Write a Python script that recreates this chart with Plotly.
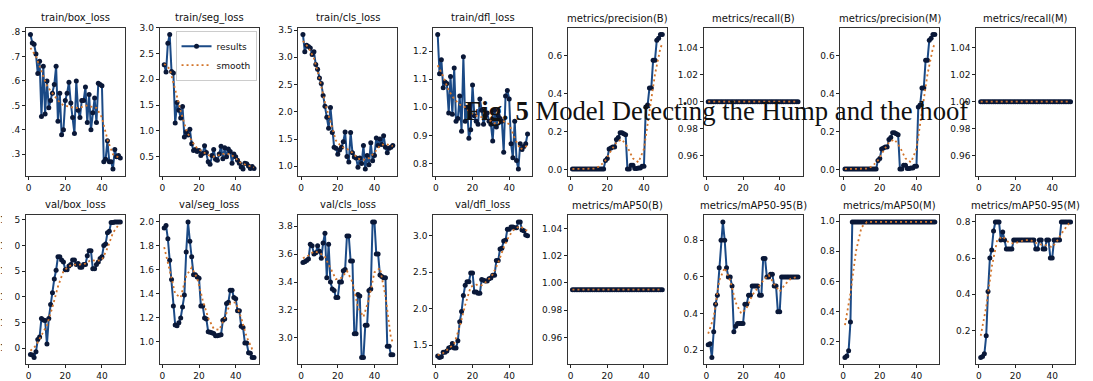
import plotly.graph_objects as go

# ---------------- data ----------------
epochs = list(range(1, 51))
smooth_epochs = [1, 4, 7, 10, 13, 16, 19, 22, 25, 28, 31, 34, 37, 40, 43, 46, 49, 50]

train_box_loss = [0.79, 0.755, 0.75, 0.71, 0.63, 0.68, 0.455, 0.66, 0.465, 0.60,
                  0.49, 0.52, 0.55, 0.585, 0.66, 0.435, 0.55, 0.38, 0.40, 0.52,
                  0.55, 0.595, 0.51, 0.45, 0.385, 0.60, 0.48, 0.45, 0.52, 0.52,
                  0.575, 0.43, 0.545, 0.40, 0.47, 0.53, 0.43, 0.59, 0.585, 0.58,
                  0.27, 0.28, 0.355, 0.27, 0.27, 0.24, 0.32, 0.29, 0.295, 0.285]
train_box_loss_smooth = [0.735, 0.70, 0.64, 0.58, 0.55, 0.52, 0.50, 0.495, 0.49, 0.49,
                         0.50, 0.495, 0.49, 0.45, 0.36, 0.30, 0.285, 0.283]

train_seg_loss = [2.28, 2.14, 2.70, 2.87, 2.15, 2.12, 1.15, 1.55, 1.40, 1.25,
                  1.47, 0.88, 0.98, 0.92, 1.03, 0.75, 0.62, 0.64, 0.60, 0.62,
                  0.52, 0.56, 0.71, 0.58, 0.40, 0.35, 0.52, 0.64, 0.45, 0.43,
                  0.55, 0.70, 0.46, 0.67, 0.50, 0.65, 0.60, 0.37, 0.55, 0.50,
                  0.43, 0.37, 0.30, 0.26, 0.37, 0.36, 0.32, 0.27, 0.31, 0.27]
train_seg_loss_smooth = [2.30, 2.20, 1.80, 1.38, 1.02, 0.80, 0.66, 0.60, 0.53, 0.50,
                         0.53, 0.56, 0.55, 0.47, 0.37, 0.33, 0.29, 0.29]

train_cls_loss = [3.42, 3.10, 3.22, 3.20, 3.17, 3.05, 3.10, 2.87, 2.78, 2.62,
                  2.52, 2.30, 2.10, 1.90, 1.70, 2.08, 1.62, 1.35, 1.33, 1.22,
                  1.30, 1.35, 1.45, 1.63, 1.18, 1.08, 1.62, 1.25, 1.17, 1.15,
                  0.98, 1.15, 1.05, 1.38, 0.95, 1.20, 1.03, 1.43, 1.10, 1.20,
                  1.52, 1.38, 1.50, 1.40, 1.56, 1.35, 1.25, 1.33, 1.35, 1.38]
train_cls_loss_smooth = [3.30, 3.18, 2.98, 2.62, 2.17, 1.80, 1.47, 1.36, 1.32, 1.25,
                         1.14, 1.12, 1.15, 1.25, 1.38, 1.41, 1.37, 1.37]

train_dfl_loss = [1.26, 1.12, 1.17, 1.07, 1.09, 1.085, 0.98, 1.11, 0.975, 1.14,
                  0.95, 0.96, 1.04, 0.915, 1.18, 0.95, 1.00, 0.89, 0.92, 1.08,
                  0.97, 0.95, 0.94, 1.03, 0.99, 0.94, 0.97, 0.98, 0.95, 0.94,
                  0.88, 0.99, 0.93, 0.97, 0.96, 0.95, 0.84, 1.04, 1.06, 1.03,
                  0.87, 0.82, 0.95, 0.81, 0.78, 0.87, 0.85, 0.86, 0.87, 0.905]
train_dfl_loss_smooth = [1.15, 1.11, 1.06, 1.03, 1.01, 1.00, 0.98, 0.97, 0.965, 0.96,
                         0.945, 0.94, 0.95, 0.94, 0.89, 0.85, 0.86, 0.865]

precision_B = [0.005, 0.005, 0.005, 0.005, 0.005, 0.005, 0.005, 0.005, 0.005, 0.005,
               0.005, 0.005, 0.005, 0.005, 0.005, 0.005, 0.005, 0.005, 0.05, 0.06,
               0.11, 0.115, 0.12, 0.12, 0.16, 0.17, 0.195, 0.195, 0.19, 0.185,
               0.005, 0.005, 0.025, 0.025, 0.008, 0.008, 0.01, 0.01, 0.02, 0.02,
               0.33, 0.34, 0.43, 0.43, 0.575, 0.575, 0.68, 0.69, 0.71, 0.71]
precision_B_smooth = [0.005, 0.005, 0.005, 0.005, 0.007, 0.02, 0.05, 0.10, 0.145, 0.16,
                      0.12, 0.06, 0.04, 0.11, 0.30, 0.50, 0.64, 0.66]

recall_B = [1.0, 1.0, 1.0, 1.0, 1.0, 1.0, 1.0, 1.0, 1.0, 1.0,
            1.0, 1.0, 1.0, 1.0, 1.0, 1.0, 1.0, 1.0, 1.0, 1.0,
            1.0, 1.0, 1.0, 1.0, 1.0, 1.0, 1.0, 1.0, 1.0, 1.0,
            1.0, 1.0, 1.0, 1.0, 1.0, 1.0, 1.0, 1.0, 1.0, 1.0,
            1.0, 1.0, 1.0, 1.0, 1.0, 1.0, 1.0, 1.0, 1.0, 1.0]
recall_B_smooth = [1.0, 1.0, 1.0, 1.0, 1.0, 1.0, 1.0, 1.0, 1.0, 1.0,
                   1.0, 1.0, 1.0, 1.0, 1.0, 1.0, 1.0, 1.0]

precision_M = [0.005, 0.005, 0.005, 0.005, 0.005, 0.005, 0.005, 0.005, 0.005, 0.005,
               0.005, 0.005, 0.005, 0.005, 0.005, 0.005, 0.005, 0.005, 0.05, 0.06,
               0.11, 0.115, 0.12, 0.12, 0.16, 0.17, 0.195, 0.195, 0.19, 0.185,
               0.005, 0.005, 0.025, 0.025, 0.008, 0.008, 0.01, 0.01, 0.02, 0.02,
               0.33, 0.34, 0.43, 0.43, 0.575, 0.575, 0.68, 0.69, 0.71, 0.71]
precision_M_smooth = [0.005, 0.005, 0.005, 0.005, 0.007, 0.02, 0.05, 0.10, 0.145, 0.16,
                      0.12, 0.06, 0.04, 0.11, 0.30, 0.50, 0.64, 0.66]

recall_M = [1.0, 1.0, 1.0, 1.0, 1.0, 1.0, 1.0, 1.0, 1.0, 1.0,
            1.0, 1.0, 1.0, 1.0, 1.0, 1.0, 1.0, 1.0, 1.0, 1.0,
            1.0, 1.0, 1.0, 1.0, 1.0, 1.0, 1.0, 1.0, 1.0, 1.0,
            1.0, 1.0, 1.0, 1.0, 1.0, 1.0, 1.0, 1.0, 1.0, 1.0,
            1.0, 1.0, 1.0, 1.0, 1.0, 1.0, 1.0, 1.0, 1.0, 1.0]
recall_M_smooth = [1.0, 1.0, 1.0, 1.0, 1.0, 1.0, 1.0, 1.0, 1.0, 1.0,
                   1.0, 1.0, 1.0, 1.0, 1.0, 1.0, 1.0, 1.0]

val_box_loss = [0.9875, 0.987, 0.982, 0.993, 1.017, 1.022, 1.058, 1.055, 1.054, 1.008,
                1.058, 1.085, 1.108, 1.135, 1.152, 1.178, 1.178, 1.172, 1.168, 1.153,
                1.153, 1.160, 1.163, 1.172, 1.172, 1.163, 1.165, 1.158, 1.158, 1.163,
                1.163, 1.180, 1.190, 1.190, 1.155, 1.155, 1.163, 1.168, 1.175, 1.178,
                1.200, 1.203, 1.225, 1.228, 1.245, 1.245, 1.246, 1.246, 1.246, 1.246]
val_box_loss_smooth = [0.995, 1.005, 1.025, 1.045, 1.08, 1.12, 1.15, 1.16, 1.163, 1.163,
                       1.165, 1.172, 1.17, 1.172, 1.195, 1.225, 1.24, 1.242]

val_seg_loss = [1.95, 1.97, 1.86, 1.68, 1.52, 1.30, 1.14, 1.135, 1.16, 1.20,
                1.29, 1.39, 1.75, 2.00, 1.84, 1.71, 1.56, 1.56, 1.54, 1.53,
                1.30, 1.30, 1.20, 1.19, 1.085, 1.08, 1.075, 1.07, 1.05, 1.05,
                1.055, 1.06, 1.18, 1.19, 1.32, 1.33, 1.43, 1.43, 1.37, 1.36,
                1.26, 1.26, 1.13, 1.12, 0.99, 0.99, 0.91, 0.905, 0.87, 0.87]
val_seg_loss_smooth = [1.79, 1.60, 1.40, 1.37, 1.55, 1.62, 1.53, 1.35, 1.20, 1.11,
                       1.10, 1.20, 1.32, 1.33, 1.20, 1.04, 0.94, 0.93]

val_cls_loss = [3.54, 3.545, 3.555, 3.565, 3.67, 3.66, 3.60, 3.61, 3.66, 3.62,
                3.57, 3.68, 3.75, 3.43, 3.67, 3.40, 3.35, 3.34, 3.29, 3.29,
                3.40, 3.40, 3.48, 3.49, 3.73, 3.73, 3.55, 3.55, 3.03, 3.03,
                3.31, 3.30, 2.86, 2.86, 3.09, 3.09, 3.34, 3.35, 3.83, 3.83,
                3.60, 3.60, 3.45, 3.44, 3.43, 3.43, 2.94, 2.94, 2.88, 2.88]
val_cls_loss_smooth = [3.57, 3.59, 3.62, 3.61, 3.58, 3.50, 3.42, 3.43, 3.48, 3.40,
                       3.22, 3.15, 3.28, 3.47, 3.50, 3.30, 3.00, 2.97]

val_dfl_loss = [1.35, 1.33, 1.34, 1.40, 1.40, 1.42, 1.46, 1.47, 1.52, 1.46,
                1.46, 1.56, 1.82, 1.96, 2.18, 2.32, 2.37, 2.37, 2.49, 2.49,
                2.23, 2.23, 2.21, 2.21, 2.40, 2.39, 2.38, 2.38, 2.41, 2.42,
                2.46, 2.46, 2.66, 2.66, 2.82, 2.83, 2.93, 2.94, 3.09, 3.09,
                3.12, 3.12, 3.11, 3.11, 3.19, 3.19, 3.08, 3.07, 3.01, 3.00]
val_dfl_loss_smooth = [1.36, 1.39, 1.45, 1.52, 1.75, 2.05, 2.30, 2.33, 2.32, 2.38,
                       2.47, 2.63, 2.84, 3.00, 3.10, 3.13, 3.08, 3.07]

mAP50_B = [0.995, 0.995, 0.995, 0.995, 0.995, 0.995, 0.995, 0.995, 0.995, 0.995,
           0.995, 0.995, 0.995, 0.995, 0.995, 0.995, 0.995, 0.995, 0.995, 0.995,
           0.995, 0.995, 0.995, 0.995, 0.995, 0.995, 0.995, 0.995, 0.995, 0.995,
           0.995, 0.995, 0.995, 0.995, 0.995, 0.995, 0.995, 0.995, 0.995, 0.995,
           0.995, 0.995, 0.995, 0.995, 0.995, 0.995, 0.995, 0.995, 0.995, 0.995]
mAP50_B_smooth = [0.995, 0.995, 0.995, 0.995, 0.995, 0.995, 0.995, 0.995, 0.995, 0.995,
                  0.995, 0.995, 0.995, 0.995, 0.995, 0.995, 0.995, 0.995]

mAP50_95_B = [0.23, 0.235, 0.16, 0.30, 0.45, 0.50, 0.65, 0.80, 0.90, 0.80,
              0.65, 0.60, 0.60, 0.55, 0.30, 0.33, 0.345, 0.345, 0.345, 0.345,
              0.45, 0.45, 0.50, 0.50, 0.55, 0.55, 0.55, 0.55, 0.50, 0.50,
              0.70, 0.70, 0.60, 0.60, 0.615, 0.615, 0.55, 0.55, 0.41, 0.41,
              0.60, 0.60, 0.60, 0.60, 0.60, 0.60, 0.60, 0.60, 0.60, 0.60]
mAP50_95_B_smooth = [0.29, 0.38, 0.58, 0.65, 0.58, 0.46, 0.40, 0.43, 0.50, 0.54,
                     0.58, 0.61, 0.56, 0.52, 0.56, 0.59, 0.60, 0.60]

mAP50_M = [0.095, 0.105, 0.14, 0.33, 0.995, 0.995, 0.995, 0.995, 0.995, 0.995,
           0.995, 0.995, 0.995, 0.995, 0.995, 0.995, 0.995, 0.995, 0.995, 0.995,
           0.995, 0.995, 0.995, 0.995, 0.995, 0.995, 0.995, 0.995, 0.995, 0.995,
           0.995, 0.995, 0.995, 0.995, 0.995, 0.995, 0.995, 0.995, 0.995, 0.995,
           0.995, 0.995, 0.995, 0.995, 0.995, 0.995, 0.995, 0.995, 0.995, 0.995]
mAP50_M_smooth = [0.31, 0.52, 0.80, 0.96, 0.995, 0.995, 0.995, 0.995, 0.995, 0.995,
                  0.995, 0.995, 0.995, 0.995, 0.995, 0.995, 0.995, 0.995]

mAP50_95_M = [0.05, 0.055, 0.07, 0.17, 0.415, 0.60, 0.645, 0.75, 0.80, 0.80,
              0.80, 0.70, 0.745, 0.70, 0.65, 0.65, 0.65, 0.65, 0.70, 0.70,
              0.70, 0.70, 0.70, 0.70, 0.70, 0.70, 0.70, 0.70, 0.70, 0.70,
              0.65, 0.65, 0.70, 0.70, 0.65, 0.65, 0.70, 0.70, 0.60, 0.60,
              0.70, 0.70, 0.70, 0.70, 0.80, 0.80, 0.80, 0.80, 0.80, 0.80]
mAP50_95_M_smooth = [0.17, 0.33, 0.55, 0.70, 0.72, 0.69, 0.68, 0.69, 0.70, 0.70,
                     0.685, 0.675, 0.67, 0.66, 0.70, 0.75, 0.79, 0.795]

panel_titles = ["train/box_loss", "train/seg_loss", "train/cls_loss", "train/dfl_loss",
                "metrics/precision(B)", "metrics/recall(B)", "metrics/precision(M)", "metrics/recall(M)",
                "val/box_loss", "val/seg_loss", "val/cls_loss", "val/dfl_loss",
                "metrics/mAP50(B)", "metrics/mAP50-95(B)", "metrics/mAP50(M)", "metrics/mAP50-95(M)"]
panel_results = [train_box_loss, train_seg_loss, train_cls_loss, train_dfl_loss,
                 precision_B, recall_B, precision_M, recall_M,
                 val_box_loss, val_seg_loss, val_cls_loss, val_dfl_loss,
                 mAP50_B, mAP50_95_B, mAP50_M, mAP50_95_M]
panel_smooth = [train_box_loss_smooth, train_seg_loss_smooth, train_cls_loss_smooth, train_dfl_loss_smooth,
                precision_B_smooth, recall_B_smooth, precision_M_smooth, recall_M_smooth,
                val_box_loss_smooth, val_seg_loss_smooth, val_cls_loss_smooth, val_dfl_loss_smooth,
                mAP50_B_smooth, mAP50_95_B_smooth, mAP50_M_smooth, mAP50_95_M_smooth]
x_tick_vals = [0, 20, 40]
y_dticks = [0.1, 0.5, 0.5, 0.1, 0.2, 0.02, 0.2, 0.02,
            0.05, 0.2, 0.2, 0.5, 0.02, 0.2, 0.2, 0.2]
y_formats = [".1f", ".1f", ".1f", ".1f", ".1f", ".2f", ".1f", ".2f",
             ".2f", ".1f", ".1f", ".1f", ".2f", ".1f", ".1f", ".1f"]
fig_title = "<b>Fig. 5</b> Model Detecting the Hump and the hoof"

# ---------------- layout ----------------
W, H = 1093, 381
col_left = [24, 158, 297, 432, 567, 703, 840, 976]
col_w = 99
row_span = [(23, 173), (213, 364)]

LINE_C = "#1b4a86"
MARK_C = "#0a1838"
SMOOTH_C = "#d2742a"
TICK_FONT = dict(family="DejaVu Sans, Liberation Sans, sans-serif", size=9, color="#111")

fig = go.Figure()
layout = dict(width=W, height=H, margin=dict(l=0, r=0, t=0, b=0),
              paper_bgcolor="white", plot_bgcolor="white", showlegend=True)
annotations = []

for i in range(16):
    r, c = divmod(i, 8)
    k = "" if i == 0 else str(i + 1)
    top, bot = row_span[r]
    xd = [col_left[c] / W, (col_left[c] + col_w) / W]
    yd = [1 - bot / H, 1 - top / H]

    res = panel_results[i]
    sm = panel_smooth[i]
    lo = min(min(res), min(sm))
    hi = max(max(res), max(sm))
    if hi - lo < 1e-9:
        lo, hi = lo - 0.05 * abs(lo), hi + 0.05 * abs(hi)
    pad = 0.05 * (hi - lo)

    fig.add_trace(go.Scatter(x=epochs, y=res, mode="lines+markers", name="results",
                             line=dict(color=LINE_C, width=2),
                             marker=dict(color=MARK_C, size=5),
                             showlegend=(i == 1), legendgroup="results",
                             xaxis="x" + k, yaxis="y" + k))
    fig.add_trace(go.Scatter(x=smooth_epochs, y=sm, mode="lines", name="smooth",
                             line=dict(color=SMOOTH_C, width=1.8, dash="2px,3px"),
                             showlegend=(i == 1), legendgroup="smooth",
                             xaxis="x" + k, yaxis="y" + k))

    layout["xaxis" + k] = dict(domain=xd, anchor="y" + k, range=[-1.45, 52.45],
                               tickvals=x_tick_vals, ticks="outside", ticklen=3,
                               tickwidth=0.8, tickcolor="#222", showgrid=False,
                               zeroline=False, showline=True, mirror=True,
                               linecolor="#333", linewidth=1, tickfont=TICK_FONT)
    layout["yaxis" + k] = dict(domain=yd, anchor="x" + k, range=[lo - pad, hi + pad],
                               dtick=y_dticks[i], tick0=0, tickformat=y_formats[i],
                               ticks="outside", ticklen=3, tickwidth=0.8,
                               tickcolor="#222", showgrid=False, zeroline=False,
                               showline=True, mirror=True, linecolor="#333",
                               linewidth=1, tickfont=TICK_FONT)
    annotations.append(dict(text=panel_titles[i], xref="paper", yref="paper",
                            x=(xd[0] + xd[1]) / 2, y=yd[1] + 2 / H,
                            xanchor="center", yanchor="bottom", showarrow=False,
                            font=dict(family="DejaVu Sans, sans-serif", size=10, color="#111")))

annotations.append(dict(text=fig_title, xref="paper", yref="paper",
                        x=462 / W, y=1 - 107 / H, xanchor="left", yanchor="middle",
                        showarrow=False,
                        font=dict(family="Liberation Serif, Times New Roman, serif",
                                  size=26.7, color="#111")))

layout["annotations"] = annotations
layout["legend"] = dict(x=255 / W, y=1 - 26 / H, xanchor="right", yanchor="top",
                        bgcolor="white", bordercolor="#cccccc", borderwidth=1,
                        font=dict(family="DejaVu Sans, sans-serif", size=9, color="#111"),
                        itemwidth=30, tracegroupgap=0)
# left edge of the original picture was cropped: mask the clipped strip
layout["shapes"] = [
    dict(type="rect", xref="paper", yref="paper", x0=0, x1=9.5 / W,
         y0=0.5, y1=1, fillcolor="white", line=dict(width=0), layer="above"),
    dict(type="rect", xref="paper", yref="paper", x0=0, x1=12.5 / W,
         y0=0, y1=0.5, fillcolor="white", line=dict(width=0), layer="above"),
]

fig.update_layout(**layout)
fig.write_html("out.html", config={"displayModeBar": False},
               post_script="document.body.style.margin='0px';document.body.style.overflow='hidden';")
